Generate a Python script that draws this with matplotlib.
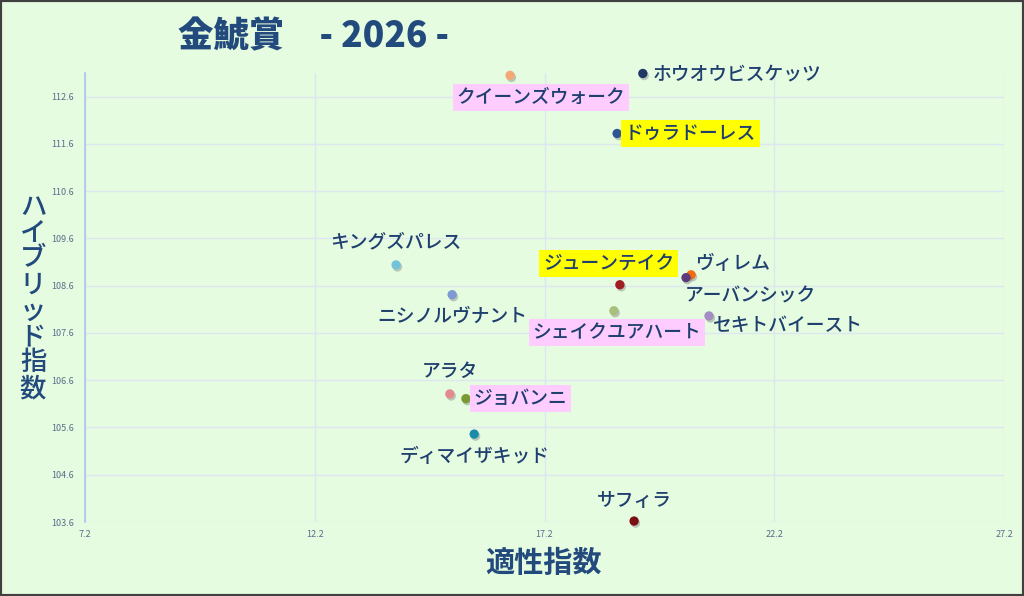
import matplotlib
matplotlib.use("Agg")
import matplotlib.pyplot as plt
import matplotlib.patheffects as pe
from matplotlib.patches import Rectangle

plt.rcParams['font.family'] = ['Noto Sans CJK JP', 'DejaVu Sans']

names = ["ホウオウビスケッツ", "クイーンズウォーク", "ドゥラドーレス", "キングズパレス",
         "ジューンテイク", "ヴィレム", "アーバンシック", "ニシノルヴナント",
         "シェイクユアハート", "セキトバイースト", "アラタ", "ジョバンニ",
         "ディマイザキッド", "サフィラ"]
aptitude = [19.34, 16.45, 18.78, 13.97, 18.84, 20.39, 20.28, 15.19,
            18.71, 20.78, 15.14, 15.49, 15.67, 19.15]
hybrid = [113.09, 113.05, 111.82, 109.04, 108.62, 108.83, 108.77, 108.41,
          108.07, 107.96, 106.31, 106.21, 105.46, 103.62]
highlight = [None, "#FFCCFF", "#FFFF00", None, "#FFFF00", None, None, None,
             "#FFCCFF", None, None, "#FFCCFF", None, None]
colors = ["#1F3864", "#F2A877", "#2F5597", "#72C3D8", "#A01E22", "#F26B0F",
          "#5B3A7E", "#7E9AD2", "#A9BF7E", "#A38DC2", "#E28A8E", "#7A9A30",
          "#1C8BAA", "#7A0E12"]
# label offsets in pixels (dx, dy) and horizontal alignment
offsets = [(10, 0, "left"), (31, -22, "center"), (8, 0, "left"), (0, 23, "center"),
           (-11, 21, "center"), (4, 11, "left"), (-1, -18, "left"), (0, -22, "center"),
           (3, -22, "center"), (4, -10, "left"), (0, 22, "center"), (8, 0, "left"),
           (0, -22, "center"), (0, 21, "center")]

xticks = [7.2, 12.2, 17.2, 22.2, 27.2]
yticks = [103.6, 104.6, 105.6, 106.6, 107.6, 108.6, 109.6, 110.6, 111.6, 112.6]

bg = "#E5FCE0"
navy = "#1F3F6E"

fig = plt.figure(figsize=(10.24, 5.96), dpi=100, facecolor=bg)
ax = fig.add_axes([85/1024, 1 - 522/596, 919/1024, 449/596])
ax.set_facecolor(bg)
ax.set_xlim(7.2, 27.2)
ax.set_ylim(103.6, 113.1)
ax.set_xticks(xticks)
ax.set_yticks(yticks)
ax.set_xticklabels([f"{v:.1f}" for v in xticks])
ax.set_yticklabels([f"{v:.1f}" for v in yticks])
ax.tick_params(length=0, labelsize=6.5, labelcolor="#5A6E8C")
ax.tick_params(axis="x", pad=6)
ax.tick_params(axis="y", pad=8)
ax.grid(True, color="#DDE7F2", linewidth=1.0)
ax.set_axisbelow(True)
for s in ["top", "right", "bottom"]:
    ax.spines[s].set_visible(False)
ax.spines["left"].set_color("#A9C4F0")
ax.spines["left"].set_linewidth(1.2)

for i in range(len(names)):
    ax.scatter([aptitude[i]], [hybrid[i]], s=45, color=colors[i], zorder=3,
               linewidths=0, clip_on=False,
               path_effects=[pe.SimplePatchShadow(offset=(1, -1.5), alpha=0.35, shadow_rgbFace="#666666"),
                             pe.Normal()])
    dx, dy, ha = offsets[i]
    bbox = None
    if highlight[i]:
        bbox = dict(boxstyle="square,pad=0.2", facecolor=highlight[i], edgecolor="none")
    ax.annotate(names[i], (aptitude[i], hybrid[i]), xytext=(dx * 0.72, dy * 0.72),
                textcoords="offset points", ha=ha, va="center", fontsize=13.5,
                fontweight="medium", color=navy, bbox=bbox, zorder=4,
                annotation_clip=False)

fig.text(313/1024, 1 - 36/596, "金鯱賞　- 2026 -", ha="center", va="center",
         fontsize=25.5, fontweight="heavy", color="#234A7C")
fig.text(544/1024, 1 - 563/596, "適性指数", ha="center", va="center",
         fontsize=21, fontweight="bold", color="#234A7C")
fig.text(33/1024, 1 - 298/596, "\n".join("ハイブリッド指数"), ha="center", va="center",
         fontsize=19, fontweight="medium", color="#234A7C", linespacing=0.95)

fig.patches.append(Rectangle((0, 0), 1, 1, transform=fig.transFigure, fill=False,
                             edgecolor="#404040", linewidth=3))

fig.savefig("out.png", dpi=100, facecolor=bg)
